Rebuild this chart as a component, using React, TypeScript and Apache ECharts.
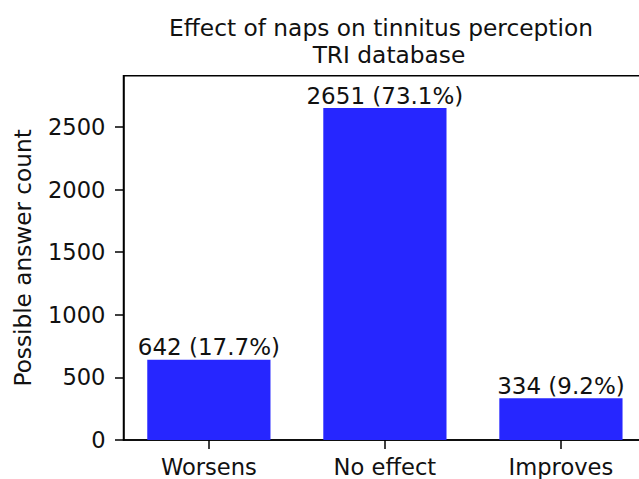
import React, { useEffect, useRef } from "react";
import * as echarts from "echarts";

const categories = ["Worsens", "No effect", "Improves"];
const counts = [642, 2651, 334];
const yTicks = [0, 500, 1000, 1500, 2000, 2500];
const titleLine1 = "Effect of naps on tinnitus perception";
const titleLine2 = "TRI database";
const yAxisLabel = "Possible answer count";

const FONT = "DejaVu Sans";
const TEXT = "#111111";

export default function App() {
  const ref = useRef<HTMLDivElement>(null);
  useEffect(() => {
    if (!ref.current) return;
    const chart = echarts.init(ref.current, null, { renderer: "svg" });
    const total = counts.reduce((a, b) => a + b, 0);
    const gridLeft = 123.5;
    const gridWidth = 522.8;
    const xMin = -0.485;
    const xMax = 2.485;
    const unit = gridWidth / (xMax - xMin);
    const titleStyle = {
      fontFamily: FONT,
      fontSize: 23.3,
      fill: TEXT,
      align: "center",
      verticalAlign: "middle",
    };
    chart.setOption({
      animation: false,
      backgroundColor: "#ffffff",
      grid: {
        left: gridLeft,
        top: 75.7,
        width: gridWidth,
        height: 364.3,
        containLabel: false,
        outerBoundsMode: "none",
        show: true,
        borderColor: "#000",
        borderWidth: 1.5,
        backgroundColor: "transparent",
      },
      graphic: [
        {
          type: "text",
          x: 381,
          y: 27,
          style: { ...titleStyle, text: titleLine1 },
        },
        {
          type: "text",
          x: 389,
          y: 54.7,
          style: { ...titleStyle, text: titleLine2 },
        },
      ],
      xAxis: {
        type: "value",
        min: xMin,
        max: xMax,
        splitLine: { show: false },
        axisLine: { show: true, onZero: false, lineStyle: { color: "#000", width: 1.5 } },
        axisTick: {
          show: true,
          length: 9,
          lineStyle: { color: "#000", width: 1.5 },
          customValues: [0, 1, 2],
        },
        axisLabel: {
          customValues: [0, 1, 2],
          formatter: (v: number) => categories[Math.round(v)] ?? "",
          fontFamily: FONT,
          fontSize: 22.6,
          lineHeight: 23,
          color: TEXT,
          margin: 15,
        },
      },
      yAxis: {
        type: "value",
        min: 0,
        max: 2910,
        name: yAxisLabel,
        nameLocation: "middle",
        nameRotate: 90,
        nameGap: 90,
        nameTextStyle: {
          fontFamily: FONT,
          fontSize: 23.2,
          lineHeight: 23,
          color: TEXT,
        },
        splitLine: { show: false },
        axisLine: { show: true, onZero: false, lineStyle: { color: "#000", width: 1.5 } },
        axisTick: {
          show: true,
          length: 8.5,
          lineStyle: { color: "#000", width: 1.5 },
          customValues: yTicks,
        },
        axisLabel: {
          customValues: yTicks,
          formatter: (v: number) => String(v),
          fontFamily: FONT,
          fontSize: 22.6,
          color: TEXT,
          margin: 18,
        },
      },
      series: [
        {
          type: "bar",
          data: counts.map((c, i) => [i, c]),
          barWidth: unit * 0.7,
          itemStyle: { color: "#2626ff" },
          label: {
            show: true,
            position: "top",
            distance: 1,
            fontFamily: FONT,
            fontSize: 23,
            lineHeight: 23,
            color: TEXT,
            formatter: (p: any) =>
              `${p.value[1]} (${((p.value[1] / total) * 100).toFixed(1)}%)`,
          },
        },
      ],
    });
    return () => chart.dispose();
  }, []);
  return (
    <div
      ref={ref}
      style={{ position: "fixed", left: 0, top: 0, width: 639, height: 479 }}
    />
  );
}
